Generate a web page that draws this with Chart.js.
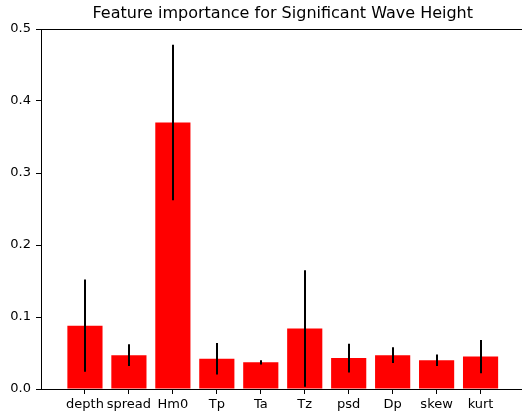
<!DOCTYPE html>
<html>
<head>
<meta charset="utf-8">
<title>Feature importance</title>
<script src="https://cdn.jsdelivr.net/npm/chart.js@4/dist/chart.umd.min.js"></script>
<style>
  body { margin: 0; background: #fff; }
  canvas { display: block; }
</style>
</head>
<body>
<canvas id="chart" width="522" height="416"></canvas>
<script>
// data
const features = ['depth', 'spread', 'Hm0', 'Tp', 'Ta', 'Tz', 'psd', 'Dp', 'skew', 'kurt'];
const importance = [0.088, 0.047, 0.370, 0.042, 0.037, 0.084, 0.043, 0.047, 0.040, 0.045];
const importanceStd = [0.064, 0.015, 0.108, 0.022, 0.003, 0.081, 0.020, 0.011, 0.008, 0.023];
const yTicks = [0.0, 0.1, 0.2, 0.3, 0.4, 0.5];
const chartTitle = 'Feature importance for Significant Wave Height';

const FONT = 'DejaVu Sans';

// error bars + title + top spine
const extrasPlugin = {
    id: 'extras',
    afterDatasetsDraw(chart) {
        const ctx = chart.ctx;
        const xs = chart.scales.x;
        const ys = chart.scales.y;
        ctx.save();
        ctx.strokeStyle = '#000';
        ctx.lineWidth = 2;
        importance.forEach((v, i) => {
            const px = Math.round(xs.getPixelForValue(i));
            ctx.beginPath();
            ctx.moveTo(px, ys.getPixelForValue(Math.max(0, v - importanceStd[i])));
            ctx.lineTo(px, ys.getPixelForValue(v + importanceStd[i]));
            ctx.stroke();
        });
        ctx.restore();
    },
    afterDraw(chart) {
        const ctx = chart.ctx;
        const area = chart.chartArea;
        const xs = chart.scales.x;
        ctx.save();
        ctx.strokeStyle = '#000';
        ctx.lineWidth = 1;
        ctx.beginPath();
        ctx.moveTo(area.left, area.top + 0.5);
        ctx.lineTo(chart.width, area.top + 0.5);
        ctx.stroke();

        // title centred over the full (cropped) axes width
        ctx.fillStyle = '#000';
        ctx.font = '16px "' + FONT + '"';
        ctx.textAlign = 'center';
        ctx.textBaseline = 'middle';
        ctx.fillText(chartTitle, xs.getPixelForValue((features.length - 1) / 2), 14);
        ctx.restore();
    }
};

new Chart(document.getElementById('chart'), {
    type: 'bar',
    data: {
        datasets: [{
            data: importance.map((v, i) => ({ x: i, y: v })),
            backgroundColor: '#ff0000',
            borderWidth: 0,
            barPercentage: 0.8,
            categoryPercentage: 1.0
        }]
    },
    options: {
        responsive: false,
        animation: false,
        devicePixelRatio: 1,
        layout: { padding: { top: 29, right: 1, left: 0, bottom: 0 } },
        plugins: {
            legend: { display: false },
            tooltip: { enabled: false },
            title: { display: false }
        },
        scales: {
            x: {
                type: 'linear',
                min: -1,
                max: 9.92,
                offset: false,
                grid: { offset: false, drawOnChartArea: false, color: '#000', tickLength: 5 },
                border: { display: true, color: '#000', width: 1 },
                afterBuildTicks: (scale) => {
                    scale.ticks = features.map((_, i) => ({ value: i }));
                },
                afterFit: (scale) => { scale.height = 27; },
                ticks: {
                    autoSkip: false,
                    maxRotation: 0,
                    padding: 3,
                    color: '#000',
                    font: { family: FONT, size: 13 },
                    callback: (v) => features[v]
                }
            },
            y: {
                min: 0,
                max: 0.5,
                grid: { drawOnChartArea: false, color: '#000', tickLength: 5 },
                border: { display: true, color: '#000', width: 1 },
                afterBuildTicks: (scale) => {
                    scale.ticks = yTicks.map(v => ({ value: v }));
                },
                afterFit: (scale) => { scale.width = 41; },
                ticks: {
                    padding: 5,
                    color: '#000',
                    font: { family: FONT, size: 13 },
                    callback: (v) => Number(v).toFixed(1)
                }
            }
        }
    },
    plugins: [extrasPlugin]
});
</script>
</body>
</html>
